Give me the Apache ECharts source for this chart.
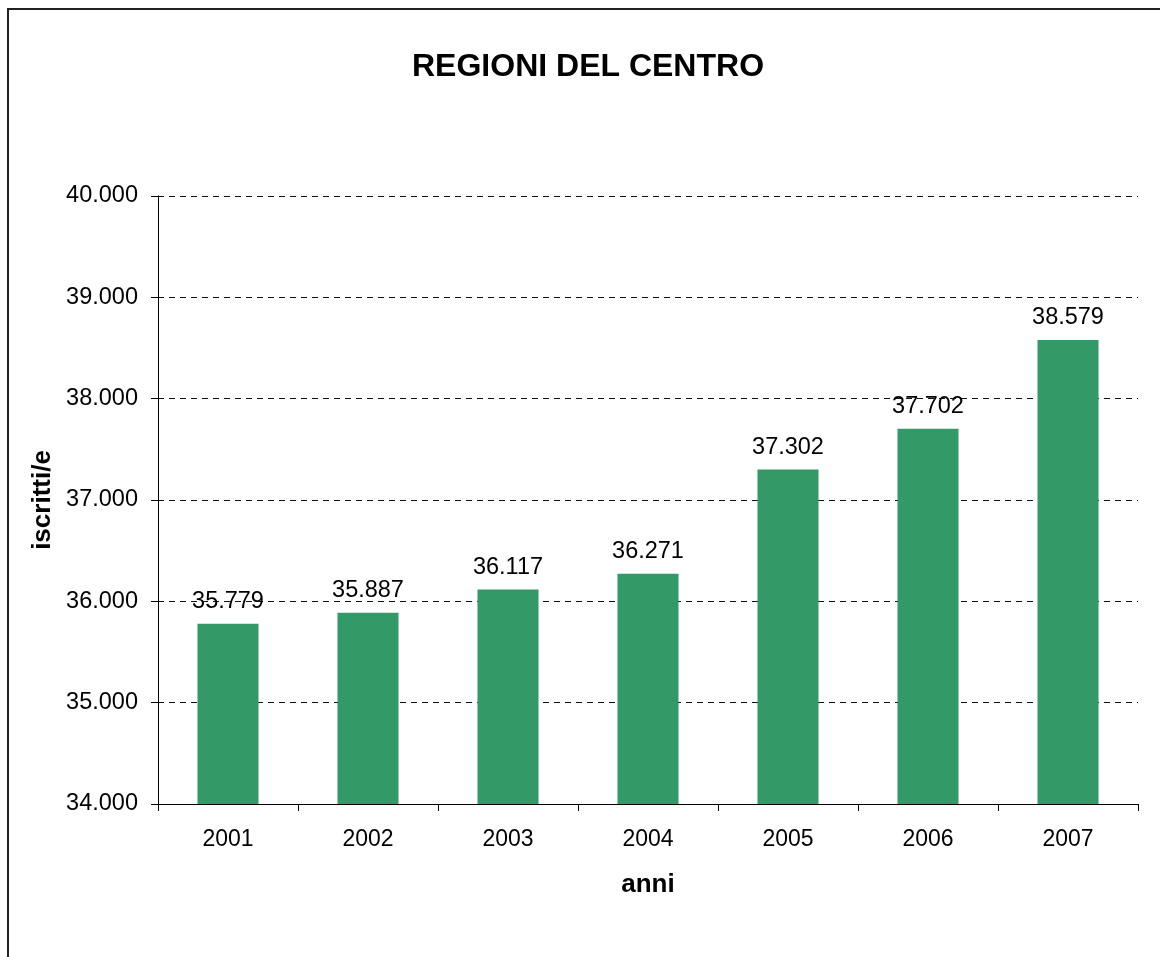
<!DOCTYPE html>
<html>
<head>
<meta charset="utf-8">
<title>REGIONI DEL CENTRO</title>
<script src="https://cdn.jsdelivr.net/npm/echarts@6/dist/echarts.min.js"></script>
<style>
  html, body { margin: 0; padding: 0; background: #fff; }
  #main { width: 1160px; height: 957px; }
</style>
</head>
<body>
<div id="main"></div>
<script>
// dati
const anni = ['2001', '2002', '2003', '2004', '2005', '2006', '2007'];
const iscritti = [35779, 35887, 36117, 36271, 37302, 37702, 38579];
const yMin = 34000;
const yMax = 40000;
const yStep = 1000;

// 35779 -> "35.779"
function fmt(v) {
  return String(v).replace(/\B(?=(\d{3})+(?!\d))/g, '.');
}

const chart = echarts.init(document.getElementById('main'));
const font = '"Liberation Sans", Arial, sans-serif';

const option = {
  backgroundColor: '#fff',
  animation: false,
  textStyle: { fontFamily: font, color: '#000' },
  title: {
    text: 'REGIONI DEL CENTRO',
    left: 412,
    top: 51,
    padding: 0,
    textStyle: { fontFamily: font, fontSize: 32, fontWeight: 'bold', color: '#000' }
  },
  graphic: [{
    type: 'rect',
    shape: { x: 8, y: 9, width: 1170, height: 970 },
    style: { fill: 'none', stroke: '#222', lineWidth: 2 },
    silent: true
  }],
  grid: { left: 158, right: 22, top: 196, bottom: 153 },
  xAxis: {
    type: 'category',
    data: anni,
    name: 'anni',
    nameLocation: 'middle',
    nameGap: 68,
    nameTextStyle: { fontFamily: font, fontSize: 26, fontWeight: 'bold', color: '#000' },
    axisLine: { lineStyle: { color: '#000', width: 1 } },
    axisTick: { show: true, length: 7, lineStyle: { color: '#000' } },
    axisLabel: { fontFamily: font, fontSize: 23, color: '#000', margin: 24 },
    splitLine: { show: false }
  },
  yAxis: {
    type: 'value',
    min: yMin,
    max: yMax,
    interval: yStep,
    name: 'iscritti/e',
    nameLocation: 'middle',
    nameGap: 102,
    nameMoveOverlap: false,
    nameTextStyle: { fontFamily: font, fontSize: 26, fontWeight: 'bold', color: '#000' },
    axisLine: { show: true, lineStyle: { color: '#000', width: 1 } },
    axisTick: { show: true, length: 7, lineStyle: { color: '#000' } },
    axisLabel: { fontFamily: font, fontSize: 23.5, color: '#000', margin: 20, formatter: fmt },
    splitLine: { show: true, lineStyle: { color: '#111', width: 1, type: [6, 5] } }
  },
  series: [{
    type: 'bar',
    data: iscritti,
    barWidth: 61,
    itemStyle: { color: '#339966' },
    label: {
      show: true,
      position: 'top',
      distance: 10,
      fontFamily: font,
      fontSize: 23.5,
      color: '#000',
      formatter: p => fmt(p.value)
    }
  }]
};

chart.setOption(option);
</script>
</body>
</html>
